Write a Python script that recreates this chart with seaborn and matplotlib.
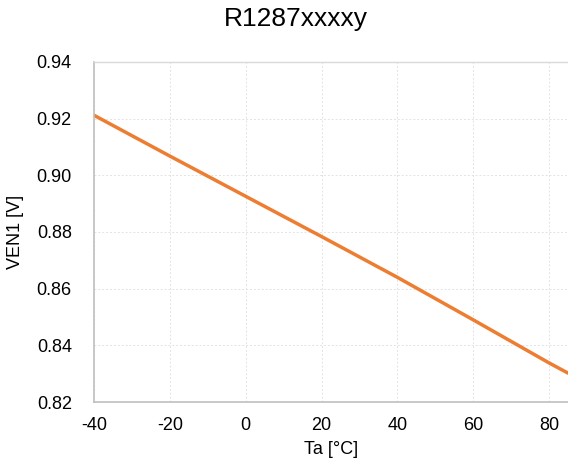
import numpy as np
import seaborn as sns
import matplotlib.pyplot as plt
import pandas as pd

# values
ta = [-40, -20, 0, 20, 40, 60, 80, 85]
ven1 = [0.9212, 0.9068, 0.8926, 0.8784, 0.8640, 0.8490, 0.8338, 0.8302]
x_ticks = [-40, -20, 0, 20, 40, 60, 80]
y_ticks = [0.82, 0.84, 0.86, 0.88, 0.90, 0.92, 0.94]

dat = pd.DataFrame({'Ta': ta, 'VEN1': ven1})

sns.set_style("white")
plt.rcParams['font.family'] = ['Liberation Sans', 'DejaVu Sans']
plt.rcParams['text.color'] = 'black'
plt.rcParams['axes.labelcolor'] = 'black'
plt.rcParams['xtick.color'] = 'black'
plt.rcParams['ytick.color'] = 'black'

fig = plt.figure(figsize=(5.68, 4.65), dpi=100)
ax = fig.add_axes([94 / 568, 1 - 402 / 465, 1 - 94 / 568, (402 - 62) / 465])
sns.lineplot(data=dat, x='Ta', y='VEN1', color='#ED7D31', linewidth=2.5, ax=ax)

ax.set_xlim(-40, 85)
ax.set_ylim(0.82, 0.94)
ax.set_xticks(x_ticks)
ax.set_yticks(y_ticks)
ax.set_xticklabels([str(v) for v in x_ticks])
ax.set_yticklabels([f'{v:.2f}' for v in y_ticks])
ax.tick_params(labelsize=13, length=0)
ax.tick_params(axis='x', pad=11)
ax.tick_params(axis='y', pad=16)
ax.grid(True, color='#e3e3e3', linestyle=(0, (2, 2)), linewidth=0.7)

for s in ['left', 'bottom']:
    ax.spines[s].set_color('#bfbfbf')
    ax.spines[s].set_linewidth(1.2)
ax.spines['top'].set_color('#d9d9d9')
ax.spines['top'].set_linewidth(1.0)
ax.spines['right'].set_visible(False)

ax.set_xlabel('Ta [°C]', fontsize=13, labelpad=5)
ax.set_ylabel('VEN1 [V]', fontsize=13, labelpad=9)
fig.text(296 / 568, 1 - 26 / 465, 'R1287xxxxy', fontsize=19, ha='center', va='baseline')

fig.savefig('out.png', dpi=100)
